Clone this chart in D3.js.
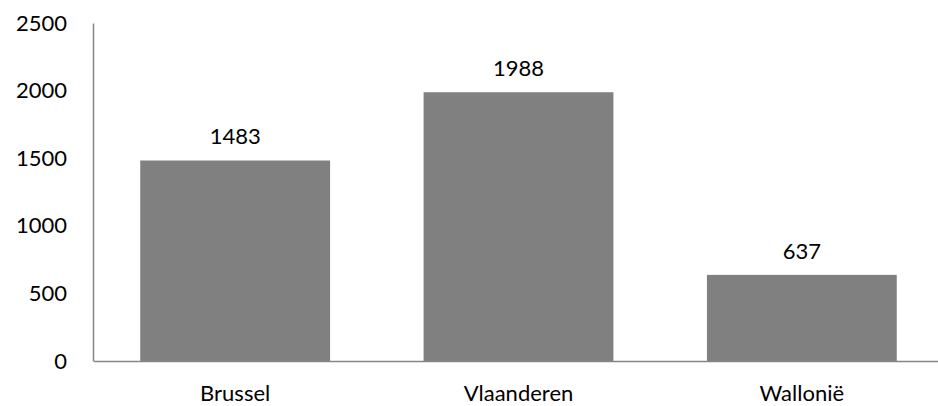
<!DOCTYPE html>
<html>
<head>
<meta charset="utf-8">
<script src="https://cdn.jsdelivr.net/npm/d3@7"></script>
<style>
  body { margin: 0; background: #fff; }
  text { font-family: Lato, "Open Sans", sans-serif; fill: #000; }
</style>
</head>
<body>
<div id="chart"></div>
<script>
var categories = ["Brussel", "Vlaanderen", "Wallonië"];
var values = [1483, 1988, 637];
var yTicks = [0, 500, 1000, 1500, 2000, 2500];

var width = 938, height = 406;
var margin = {top: 23, right: -6, bottom: 45, left: 93};
var fontSize = "22px";

var svg = d3.select("#chart").append("svg")
    .attr("width", width)
    .attr("height", height);

var x = d3.scaleBand()
    .domain(categories)
    .range([margin.left + 0.5, width - margin.right - 0.5])
    .paddingInner(0.33)
    .paddingOuter(0.165);

var y = d3.scaleLinear()
    .domain([0, 2500])
    .range([height - margin.bottom, margin.top]);

// bars
svg.selectAll("rect.bar")
    .data(values)
    .enter().append("rect")
    .attr("class", "bar")
    .attr("x", function(d, i) { return x(categories[i]); })
    .attr("y", function(d) { return y(d); })
    .attr("width", x.bandwidth())
    .attr("height", function(d) { return y(0) - y(d); })
    .attr("fill", "#808080");

// value labels
svg.selectAll("text.val")
    .data(values)
    .enter().append("text")
    .attr("class", "val")
    .attr("x", function(d, i) { return x(categories[i]) + x.bandwidth() / 2; })
    .attr("y", function(d) { return y(d) - 16; })
    .attr("text-anchor", "middle")
    .style("font-size", fontSize)
    .text(function(d) { return d; });

// y axis
var yAxis = svg.append("g")
    .attr("transform", "translate(" + margin.left + ",0)")
    .call(d3.axisLeft(y).tickValues(yTicks).tickFormat(d3.format("d")).tickSize(0).tickPadding(26));
yAxis.select(".domain").attr("stroke", "#868686").attr("stroke-width", 1.5);
yAxis.selectAll("text").style("font-size", fontSize).style("font-family", "Lato, sans-serif").attr("fill", "#000");

// x axis
var xAxis = svg.append("g")
    .attr("transform", "translate(0," + y(0) + ")")
    .call(d3.axisBottom(x).tickSize(0).tickPadding(24));
xAxis.select(".domain").attr("stroke", "#868686").attr("stroke-width", 1.5);
xAxis.selectAll("text").style("font-size", fontSize).style("font-family", "Lato, sans-serif").attr("fill", "#000");
</script>
</body>
</html>
